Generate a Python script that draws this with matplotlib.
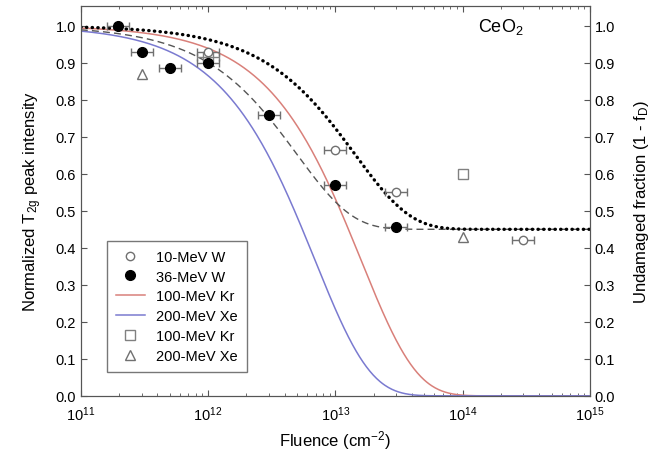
import numpy as np
import matplotlib.pyplot as plt
from matplotlib.lines import Line2D

plt.rcParams['font.family'] = ['Liberation Sans', 'DejaVu Sans']
plt.rcParams['mathtext.fontset'] = 'custom'
plt.rcParams['mathtext.rm'] = 'Liberation Sans'
plt.rcParams['mathtext.it'] = 'Liberation Sans'

# Raman T2g intensity, 10-MeV W
w10_fluence = [1e12, 1e13, 3e13, 3e14]
w10_intensity = [0.93, 0.665, 0.55, 0.42]

# Raman T2g intensity, 36-MeV W
w36_fluence = [1.95e11, 3e11, 5e11, 1e12, 3e12, 1e13, 3e13]
w36_intensity = [1.0, 0.93, 0.885, 0.90, 0.76, 0.57, 0.455]

# 100-MeV Kr and 200-MeV Xe intensities
kr_fluence = [1e12, 1e14]
kr_intensity = [0.915, 0.60]
xe_fluence = [3e11, 1e14]
xe_intensity = [0.87, 0.43]

# relative fluence uncertainty
fluence_err = 0.22

# single-impact fit parameters: cross section (cm^2) and saturation level
sigma_kr = 6.3e-14
sigma_xe = 1.45e-13
sigma_w36 = 2.0e-13
sigma_w10 = 7.0e-14
saturation = 0.45

phi = np.logspace(11, 15, 600)

fig = plt.figure(figsize=(6.68, 4.52), dpi=100)
ax = fig.add_axes([0.121, 0.122, 0.762, 0.863])


def xerr(x):
    x = np.asarray(x)
    return [x - x / (1 + fluence_err), x * fluence_err]


# fitted curves
ax.plot(phi, np.exp(-sigma_kr * phi), color='#d9807a', lw=1.1)
ax.plot(phi, np.exp(-sigma_xe * phi), color='#7a7ad0', lw=1.1)
ax.plot(phi, saturation + (1 - saturation) * np.exp(-sigma_w36 * phi),
        color='#555555', lw=1.0, dashes=(5, 3))
ax.plot(phi, saturation + (1 - saturation) * np.exp(-sigma_w10 * phi),
        color='black', lw=2.4, linestyle=(0, (0.1, 1.6)), dash_capstyle='round')

# measured points
ax.errorbar(w10_fluence, w10_intensity, xerr=xerr(w10_fluence), fmt='o',
            ms=6, mfc='white', mec='#707070', mew=1.0, ecolor='#707070',
            elinewidth=1.0, capsize=3, zorder=4)
ax.errorbar(w36_fluence, w36_intensity, xerr=xerr(w36_fluence), fmt='o',
            ms=7, mfc='black', mec='black', ecolor='#707070',
            elinewidth=1.0, capsize=3, zorder=5)
ax.errorbar(kr_fluence[:1], kr_intensity[:1], xerr=xerr(kr_fluence[:1]), fmt='s',
            ms=7, mfc='none', mec='#808080', mew=1.0, ecolor='#808080',
            elinewidth=1.0, capsize=3, zorder=3)
ax.plot(kr_fluence[1:], kr_intensity[1:], 's', ms=7, mfc='white', mec='#808080',
        mew=1.0, zorder=3)
ax.plot(xe_fluence, xe_intensity, '^', ms=7, mfc='white', mec='#707070',
        mew=1.0, zorder=3)

ax.set_xscale('log')
ax.set_xlim(1e11, 1e15)
ax.set_ylim(0, 1.054)
yt = np.arange(0, 1.01, 0.1)
ax.set_yticks(yt)
ax.set_yticklabels([f'{v:.1f}' for v in yt])
ax.set_xticks([1e11, 1e12, 1e13, 1e14, 1e15])
ax.tick_params(which='both', direction='in', top=True, labelsize=10.5, color='#555555')
ax.tick_params(which='major', length=4)
ax.tick_params(which='minor', length=2.5)
ax.tick_params(axis='x', pad=6)
for s in ax.spines.values():
    s.set_color('#555555')

ax.set_xlabel('Fluence (cm$^{-2}$)', fontsize=12, labelpad=4)
ax.set_ylabel('Normalized T$_{2g}$ peak intensity', fontsize=12, labelpad=8)

ax2 = ax.twinx()
ax2.set_ylim(ax.get_ylim())
ax2.set_yticks(yt)
ax2.set_yticklabels([f'{v:.1f}' for v in yt])
ax2.tick_params(direction='in', labelsize=10.5, length=4, color='#555555')
ax2.set_ylabel('Undamaged fraction (1 - f$_D$)', fontsize=12, labelpad=12)
for s in ax2.spines.values():
    s.set_color('#555555')

ax.text(0.78, 0.935, 'CeO$_2$', transform=ax.transAxes, fontsize=13)

handles = [
    Line2D([], [], ls='none', marker='o', ms=6, mfc='white', mec='#707070'),
    Line2D([], [], ls='none', marker='o', ms=7, mfc='black', mec='black'),
    Line2D([], [], color='#d9807a', lw=1.1),
    Line2D([], [], color='#7a7ad0', lw=1.1),
    Line2D([], [], ls='none', marker='s', ms=7, mfc='white', mec='#808080'),
    Line2D([], [], ls='none', marker='^', ms=7, mfc='white', mec='#707070'),
]
labels = ['10-MeV W', '36-MeV W', '100-MeV Kr', '200-MeV Xe', '100-MeV Kr', '200-MeV Xe']
leg = ax.legend(handles, labels, loc='lower left', bbox_to_anchor=(0.051, 0.062),
                borderaxespad=0, fontsize=10.5, frameon=True, fancybox=False,
                edgecolor='#555555', handlelength=2.0, borderpad=0.6,
                labelspacing=0.4)
leg.get_frame().set_linewidth(1.0)

fig.savefig('out.png', dpi=100)
